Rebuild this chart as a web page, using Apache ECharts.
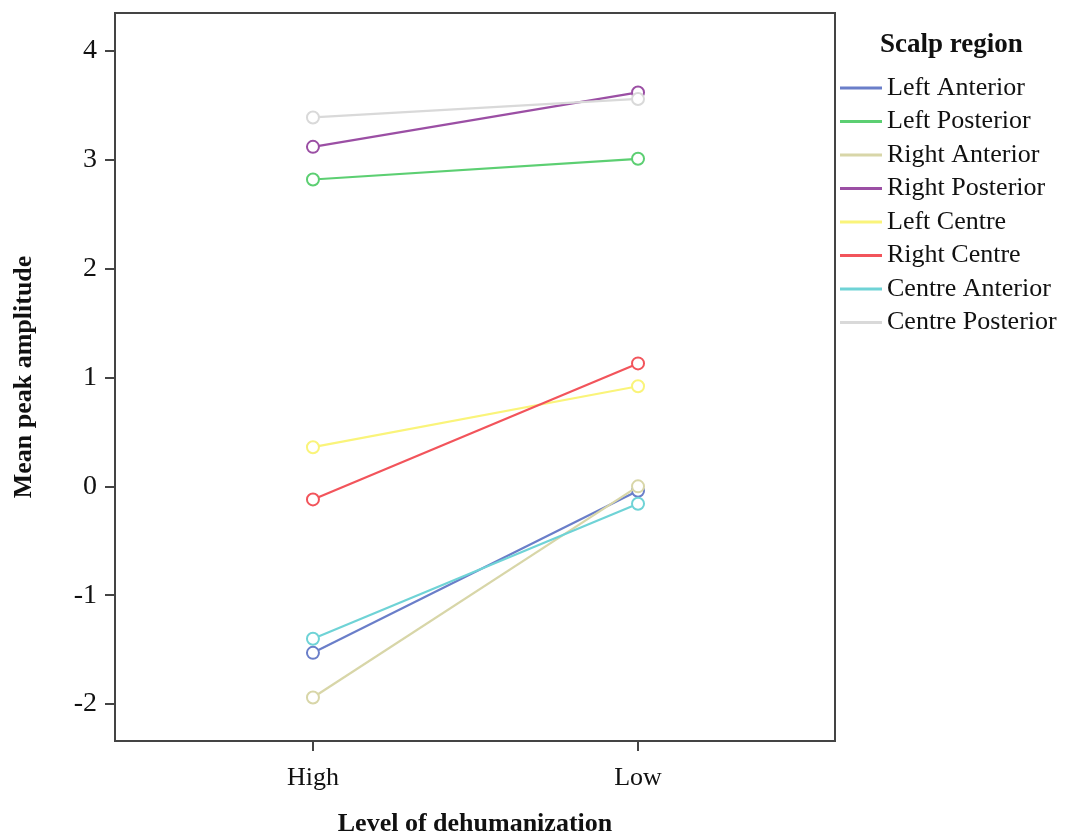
<!DOCTYPE html>
<html>
<head>
<meta charset="utf-8">
<script src="https://cdn.jsdelivr.net/npm/echarts@6/dist/echarts.min.js"></script>
<style>
  body { margin: 0; background: #fff; }
  #chart { width: 1074px; height: 834px; }
</style>
</head>
<body>
<div id="chart"></div>
<script>
// x categories: High = 0, Low = 1 on a value axis
const levels = ['High', 'Low']
const regions = ['Left Anterior', 'Left Posterior', 'Right Anterior', 'Right Posterior',
  'Left Centre', 'Right Centre', 'Centre Anterior', 'Centre Posterior']
const colors = ['#6a7ec9', '#5ccf72', '#d8d6a8', '#9b4fa4', '#faf47a', '#f2545b', '#6fd3d6', '#d9d9d9']
const leftAnterior = [-1.53, -0.04]
const leftPosterior = [2.82, 3.01]
const rightAnterior = [-1.94, 0.0]
const rightPosterior = [3.12, 3.62]
const leftCentre = [0.36, 0.92]
const rightCentre = [-0.12, 1.13]
const centreAnterior = [-1.40, -0.16]
const centrePosterior = [3.39, 3.56]
const yTicks = [-2, -1, 0, 1, 2, 3, 4]

const allValues = [leftAnterior, leftPosterior, rightAnterior, rightPosterior,
  leftCentre, rightCentre, centreAnterior, centrePosterior]

const font = 'Liberation Serif'

let series = allValues.map(function (vals, i) {
  return {
    name: regions[i],
    type: 'line',
    data: vals.map(function (v, j) { return [j, v] }),
    symbol: 'emptyCircle',
    symbolSize: 12,
    color: colors[i],
    lineStyle: { width: 2.2, color: colors[i] },
    itemStyle: { color: colors[i], borderWidth: 1.8 },
    z: 3 + i
  }
})

let myChart = echarts.init(document.getElementById('chart'))
myChart.setOption({
  animation: false,
  backgroundColor: '#fff',
  title: {
    text: 'Scalp region',
    left: 875,
    top: 27,
    textStyle: { fontFamily: font, fontWeight: 'bold', fontSize: 27, color: '#111' }
  },
  legend: {
    orient: 'vertical',
    left: 835,
    top: 70,
    icon: 'rect',
    itemWidth: 42,
    itemHeight: 3,
    itemGap: 7.5,
    textStyle: { fontFamily: font, fontSize: 26, color: '#111', lineHeight: 26, padding: [0, 0, 0, 0] },
    data: regions
  },
  grid: {
    left: 115,
    top: 13,
    right: 239,
    bottom: 93,
    outerBoundsMode: 'none',
    containLabel: false,
    show: true,
    borderColor: '#444',
    borderWidth: 2
  },
  xAxis: {
    type: 'value',
    min: -0.609,
    max: 1.606,
    name: 'Level of dehumanization',
    nameLocation: 'middle',
    nameGap: 70,
    nameTextStyle: { fontFamily: font, fontWeight: 'bold', fontSize: 26, color: '#111' },
    splitLine: { show: false },
    axisLine: { onZero: false, lineStyle: { color: '#444', width: 2 } },
    axisTick: { show: true, customValues: [0, 1], length: 10, lineStyle: { color: '#444', width: 2 } },
    axisLabel: {
      customValues: [0, 1],
      formatter: function (v) { return levels[Math.round(v)] },
      fontFamily: font, fontSize: 26, color: '#111', margin: 24
    }
  },
  yAxis: {
    type: 'value',
    min: -2.34,
    max: 4.35,
    name: 'Mean peak amplitude',
    nameLocation: 'middle',
    nameGap: 78,
    nameTextStyle: { fontFamily: font, fontWeight: 'bold', fontSize: 26, color: '#111' },
    splitLine: { show: false },
    axisLine: { show: true, onZero: false, lineStyle: { color: '#444', width: 2 } },
    axisTick: { show: true, customValues: yTicks, length: 10, lineStyle: { color: '#444', width: 2 } },
    axisLabel: {
      customValues: yTicks,
      formatter: function (v) { return String(Math.round(v)) },
      fontFamily: font, fontSize: 28, color: '#111', margin: 18
    }
  },
  series: series
})
</script>
</body>
</html>
